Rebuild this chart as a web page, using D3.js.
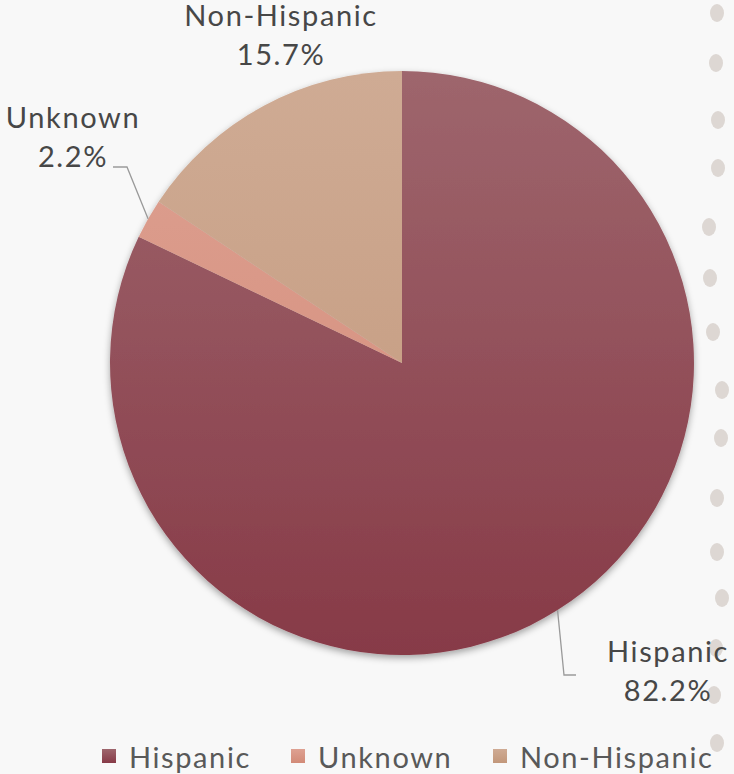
<!DOCTYPE html>
<html><head><meta charset="utf-8">
<script src="https://cdn.jsdelivr.net/npm/d3@7/dist/d3.min.js"></script>
<style>
html,body{margin:0;padding:0;background:#f8f8f8;}
svg{display:block;}
text{font-family:Lato,"Noto Sans",sans-serif;fill:#474747;font-weight:400;}
</style></head><body>
<svg id="chart" width="734" height="774"></svg>
<script>
const categories = ["Hispanic", "Unknown", "Non-Hispanic"];
const values = [82.2, 2.2, 15.7];
const labels = ["82.2%", "2.2%", "15.7%"];
const colorsTop = ["#9e666d", "#dea192", "#cfab94"];
const colorsBottom = ["#873a47", "#d28a77", "#c2977a"];
const dotsX = [717, 716, 718, 718, 709, 710, 713, 722, 721, 717, 717, 722, 716, 714, 717];
const dotsY = [13, 63, 120, 168, 227, 278, 332, 390, 438, 498, 552, 598, 648, 695, 743];

const cx = 402, cy = 363, R = 292;
const svg = d3.select("#chart");

const defs = svg.append("defs");
categories.forEach((c, i) => {
  const g = defs.append("linearGradient").attr("id", "grad" + i)
    .attr("gradientUnits", "userSpaceOnUse")
    .attr("x1", 0).attr("y1", -R).attr("x2", 0).attr("y2", R);
  g.append("stop").attr("offset", "0%").attr("stop-color", colorsTop[i]);
  g.append("stop").attr("offset", "100%").attr("stop-color", colorsBottom[i]);
  const lgg = defs.append("linearGradient").attr("id", "lgrad" + i).attr("x1", 0).attr("y1", 0).attr("x2", 0).attr("y2", 1);
  lgg.append("stop").attr("offset", "0%").attr("stop-color", colorsTop[i]);
  lgg.append("stop").attr("offset", "100%").attr("stop-color", colorsBottom[i]);
});
const f = defs.append("filter").attr("id", "shadow").attr("x", "-10%").attr("y", "-10%").attr("width", "120%").attr("height", "120%");
f.append("feDropShadow").attr("dx", 0).attr("dy", 3).attr("stdDeviation", 3.5)
  .attr("flood-color", "#000").attr("flood-opacity", 0.35);

// decorative dots
svg.append("g").selectAll("ellipse").data(dotsX).join("ellipse")
  .attr("cx", (d) => d).attr("cy", (d, i) => dotsY[i])
  .attr("rx", 7).attr("ry", 9).attr("fill", "#ddd7d3");

const pie = d3.pie().sort(null).value((d) => d.v);
const data = pie(categories.map((c, i) => ({ c, v: values[i], i })));
const arc = d3.arc().innerRadius(0).outerRadius(R);

const g = svg.append("g").attr("transform", `translate(${cx},${cy})`);
g.append("g").attr("filter", "url(#shadow)").selectAll("path").data(data).join("path")
  .attr("d", arc)
  .attr("fill", (d) => `url(#grad${d.data.i})`);

// labels
const fs = 29;
const pt = (a, r) => [r * Math.sin(a), -r * Math.cos(a)];
const labelPos = [
  { x: 667, y: 662 },
  { x: 72, y: 128 },
  { x: 280, y: 26 }
];
data.forEach((d, k) => {
  const lp = labelPos[k];
  const t = svg.append("text").attr("text-anchor", "middle")
    .style("font-size", fs + "px").style("letter-spacing", "1.6px");
  t.append("tspan").attr("x", lp.x + 1).attr("y", lp.y).text(d.data.c);
  t.append("tspan").attr("x", lp.x + 1).attr("y", lp.y + 39).text(labels[k]);
  if (k < 2) {
    const mid = (d.startAngle + d.endAngle) / 2;
    const p = pt(mid, R);
    const px = cx + p[0], py = cy + p[1];
    const pts = k === 0 ? [[px, py], [564, 675], [576, 675]] : [[px, py], [127, 167], [113, 167]];
    svg.append("polyline").attr("points", pts.map((q) => q.join(",")).join(" "))
      .attr("fill", "none").attr("stroke", "#9a9a9a").attr("stroke-width", 1.3);
  }
});

// legend
const legX = [102, 291, 493];
const lg = svg.append("g");
categories.forEach((c, i) => {
  lg.append("rect").attr("x", legX[i]).attr("y", 749).attr("width", 14).attr("height", 14)
    .attr("fill", `url(#lgrad${i})`);
  lg.append("text").attr("x", legX[i] + 27).attr("y", 768).style("font-size", "29px")
    .style("letter-spacing", "1.6px").style("fill", "#595959").text(c);
});
</script>
</body></html>
